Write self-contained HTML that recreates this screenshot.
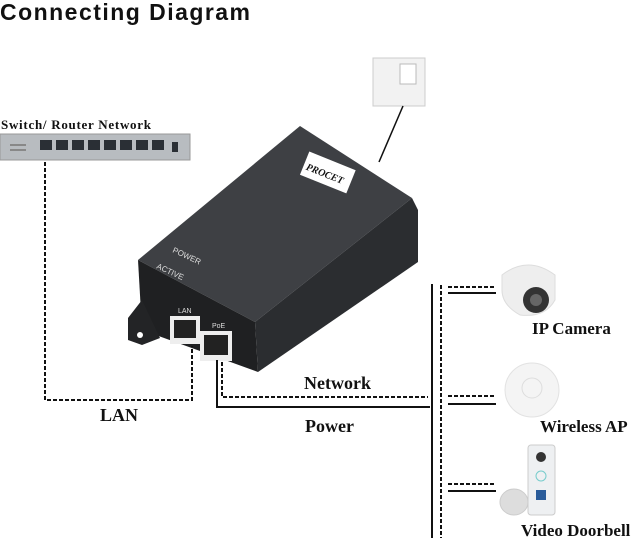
<!DOCTYPE html>
<html><head><meta charset="utf-8"><style>
html,body{margin:0;padding:0;background:#fff;}
svg{display:block;}
text{font-family:"Liberation Serif",serif;font-weight:bold;fill:#111;}
</style></head><body>
<svg width="640" height="538" viewBox="0 0 640 538" xmlns="http://www.w3.org/2000/svg">
<text x="0" y="20" font-size="23" style="font-family:'Liberation Sans Narrow','Liberation Sans',sans-serif" textLength="250">Connecting Diagram</text>
<text x="1" y="129" font-size="13" textLength="150">Switch/ Router Network</text>
<!-- switch -->
<rect x="0" y="134" width="190" height="26" fill="#b8bcc0" stroke="#999"/>
<g fill="#2a2f35">
<rect x="40" y="140" width="12" height="10"/><rect x="56" y="140" width="12" height="10"/><rect x="72" y="140" width="12" height="10"/><rect x="88" y="140" width="12" height="10"/><rect x="104" y="140" width="12" height="10"/><rect x="120" y="140" width="12" height="10"/><rect x="136" y="140" width="12" height="10"/><rect x="152" y="140" width="12" height="10"/>
<rect x="172" y="142" width="6" height="10"/></g>
<g fill="#888"><rect x="10" y="144" width="16" height="2"/><rect x="10" y="149" width="16" height="2"/></g>
<!-- outlet -->
<rect x="373" y="58" width="52" height="48" fill="#f2f2f2" stroke="#ccc"/>
<rect x="400" y="64" width="16" height="20" fill="#fff" stroke="#bbb"/>
<line x1="403" y1="106" x2="379" y2="162" stroke="#111" stroke-width="1.5"/>
<!-- PoE device -->
<polygon points="300,126 412,198 255,322 138,260" fill="#3e4044"/>
<polygon points="412,198 418,210 418,262 258,372 255,322" fill="#2b2d30"/>
<polygon points="138,260 255,322 258,372 142,330" fill="#1f2022"/>
<polygon points="142,300 128,318 128,340 142,345 160,338" fill="#232426"/>
<circle cx="140" cy="335" r="3" fill="#fff"/>
<rect x="303" y="160" width="50" height="25" fill="#fff" transform="rotate(22 328 172)"/>
<text x="306" y="178" font-size="10" font-style="italic" transform="rotate(22 328 172)" fill="#222">PROCET</text>
<text x="172" y="252" font-size="8" style="fill:#ddd;font-family:'Liberation Sans',sans-serif;font-weight:normal" transform="rotate(25 172 252)">POWER</text>
<text x="156" y="268" font-size="8" style="fill:#ddd;font-family:'Liberation Sans',sans-serif;font-weight:normal" transform="rotate(25 156 268)">ACTIVE</text>
<text x="178" y="313" font-size="7" style="fill:#ddd;font-family:'Liberation Sans',sans-serif;font-weight:normal">LAN</text>
<text x="212" y="328" font-size="7" style="fill:#ddd;font-family:'Liberation Sans',sans-serif;font-weight:normal">PoE</text>
<rect x="170" y="316" width="30" height="28" fill="#eee"/><rect x="174" y="320" width="22" height="18" fill="#222"/>
<rect x="200" y="331" width="32" height="30" fill="#eee"/><rect x="204" y="335" width="24" height="20" fill="#222"/>
<!-- connectors -->
<g fill="none" stroke="#111" stroke-width="2" stroke-dasharray="4,2">
<polyline points="45,162 45,400 192,400 192,346"/>
<polyline points="222,362 222,397 428,397"/>
<line x1="441" y1="285" x2="441" y2="538"/>
<line x1="448" y1="287" x2="496" y2="287"/>
<line x1="448" y1="396" x2="496" y2="396"/>
<line x1="448" y1="484" x2="496" y2="484"/>
</g>
<g fill="none" stroke="#111" stroke-width="2">
<polyline points="217,360 217,407 430,407"/>
<line x1="432" y1="284" x2="432" y2="538"/>
<line x1="448" y1="293" x2="496" y2="293"/>
<line x1="448" y1="404" x2="496" y2="404"/>
<line x1="448" y1="491" x2="496" y2="491"/>
</g>
<!-- camera -->
<path d="M502,275 Q528,255 555,275 L555,300 Q545,318 520,315 Q502,305 502,290 Z" fill="#eee" stroke="#ddd"/>
<circle cx="536" cy="300" r="13" fill="#333"/><circle cx="536" cy="300" r="6" fill="#666"/>
<!-- AP -->
<circle cx="532" cy="390" r="27" fill="#f4f4f4" stroke="#e2e2e2"/>
<circle cx="532" cy="388" r="10" fill="none" stroke="#ddd"/>
<!-- doorbell -->
<rect x="528" y="445" width="27" height="70" rx="3" fill="#eef0f2" stroke="#ccc"/>
<circle cx="541" cy="457" r="5" fill="#333"/>
<circle cx="541" cy="476" r="5" fill="none" stroke="#7cc"/>
<rect x="536" y="490" width="10" height="10" fill="#2a5c9a"/>
<ellipse cx="514" cy="502" rx="14" ry="13" fill="#ddd" stroke="#ccc"/>
<text x="304" y="389" font-size="18">Network</text>
<text x="305" y="432" font-size="18">Power</text>
<text x="100" y="421" font-size="18">LAN</text>
<text x="532" y="334" font-size="17">IP Camera</text>
<text x="540" y="432" font-size="17">Wireless AP</text>
<text x="521" y="536" font-size="17">Video Doorbell</text>
</svg>
</body></html>
